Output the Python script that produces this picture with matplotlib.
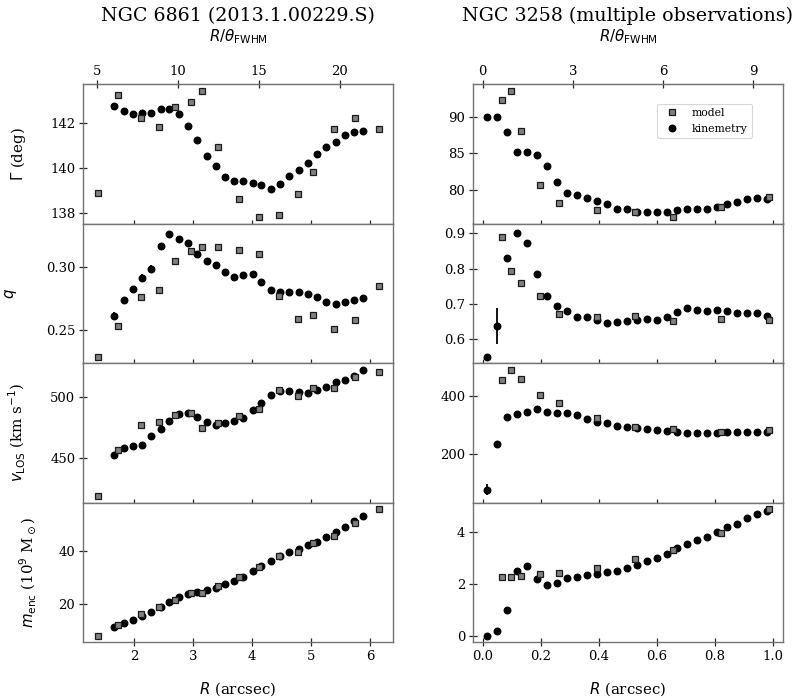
import matplotlib
matplotlib.use("Agg")
import matplotlib.pyplot as plt
from matplotlib.ticker import MultipleLocator, FormatStrFormatter

plt.rcParams['font.family'] = ['DejaVu Serif']
plt.rcParams['mathtext.fontset'] = 'dejavusans'

# ---------------- data: NGC 6861 ----------------
title_6861 = "NGC 6861 (2013.1.00229.S)"
theta_fwhm_6861 = 0.2745  # arcsec

r_kin_6861 = [1.66, 1.825, 1.98, 2.135, 2.29, 2.45, 2.60, 2.76, 2.915, 3.07, 3.23, 3.39, 3.54, 3.70,
              3.85, 4.01, 4.16, 4.32, 4.48, 4.63, 4.79, 4.95, 5.10, 5.26, 5.42, 5.57, 5.73, 5.89]
gamma_kin_6861 = [142.75, 142.5, 142.4, 142.44, 142.44, 142.6, 142.6, 142.4, 141.85, 141.25, 140.54,
                  140.07, 139.58, 139.39, 139.42, 139.33, 139.23, 139.05, 139.29, 139.65, 139.9, 140.2,
                  140.61, 140.91, 141.16, 141.45, 141.59, 141.63]
q_kin_6861 = [0.2614, 0.2741, 0.2828, 0.2918, 0.2989, 0.3164, 0.3265, 0.3222, 0.3190, 0.3103, 0.3050,
              0.3019, 0.2966, 0.2923, 0.2939, 0.2950, 0.2886, 0.2817, 0.2807, 0.2807, 0.2804, 0.2791,
              0.2767, 0.2722, 0.2706, 0.2728, 0.2741, 0.2754]
q_err_6861 = [0.003, 0.001, 0.001, 0.003, 0.003, 0.003, 0.001, 0.001, 0.001, 0.001, 0.001, 0.001,
              0.001, 0.001, 0.001, 0.001, 0.001, 0.001, 0.001, 0.001, 0.001, 0.001, 0.001, 0.001,
              0.001, 0.001, 0.001, 0.001]
v_kin_6861 = [452.2, 457.9, 459.5, 460.3, 467.9, 473.4, 480.4, 486.1, 486.4, 482.9, 478.8, 476.4,
              478.3, 480.4, 482.6, 489.1, 494.8, 501.4, 504.3, 504.3, 503.5, 503.3, 505.7, 508.2,
              512.0, 513.9, 516.8, 521.5]
m_kin_6861 = [11.3, 12.9, 13.9, 15.3, 17.0, 18.9, 20.9, 22.5, 23.8, 24.6, 25.2, 26.1, 27.5, 28.9,
              30.4, 32.4, 34.6, 36.3, 38.2, 39.6, 41.0, 42.2, 43.5, 45.4, 47.3, 49.1, 51.4, 53.5]

r_mod_6861 = [1.384, 1.73, 2.124, 2.43, 2.695, 2.96, 3.147, 3.43, 3.774, 4.119, 4.463, 4.78, 5.04,
              5.396, 5.74, 6.158]
gamma_mod_6861 = [138.89, 143.21, 142.19, 141.79, 142.71, 142.91, 143.42, 140.91, 138.61, 137.80,
                  137.90, 138.81, 139.80, 141.72, 142.19, 141.70]
q_mod_6861 = [0.2291, 0.2532, 0.2762, 0.2817, 0.3050, 0.3130, 0.3159, 0.3159, 0.3138, 0.3101, 0.2770,
              0.2590, 0.2619, 0.2511, 0.2579, 0.2849]
v_mod_6861 = [418.5, 456.3, 476.6, 479.1, 485.3, 486.4, 474.5, 478.5, 484.0, 489.9, 505.4, 500.8,
              506.8, 507.3, 516.3, 519.8]
m_mod_6861 = [8.0, 12.0, 16.3, 18.7, 21.6, 24.1, 24.3, 27.0, 30.4, 33.9, 38.2, 39.7, 43.0, 45.8,
              50.6, 56.1]

# ---------------- data: NGC 3258 ----------------
title_3258 = "NGC 3258 (multiple observations)"
theta_fwhm_3258 = 0.1038  # arcsec

r_kin_3258 = [0.015, 0.049, 0.084, 0.118, 0.153, 0.187, 0.222, 0.256, 0.291, 0.325, 0.360, 0.394,
              0.429, 0.463, 0.498, 0.532, 0.567, 0.601, 0.636, 0.670, 0.705, 0.739, 0.774, 0.808,
              0.843, 0.877, 0.911, 0.946, 0.980]
gamma_kin_3258 = [90.0, 90.0, 87.93, 85.16, 85.16, 84.79, 83.32, 81.01, 79.49, 79.22, 78.80, 78.43,
                  78.06, 77.37, 77.24, 76.96, 76.96, 76.87, 76.87, 77.10, 77.37, 77.24, 77.24, 77.56,
                  77.97, 78.34, 78.66, 78.85, 78.66]
q_kin_3258 = [0.550, 0.638, 0.831, 0.900, 0.873, 0.786, 0.723, 0.694, 0.679, 0.662, 0.663, 0.656,
              0.645, 0.648, 0.652, 0.655, 0.658, 0.656, 0.663, 0.678, 0.689, 0.684, 0.681, 0.682,
              0.681, 0.675, 0.675, 0.675, 0.665]
q_err_3258 = [0.003, 0.05, 0.003, 0.003, 0.003, 0.003, 0.003, 0.003, 0.003, 0.003, 0.003, 0.003,
              0.003, 0.003, 0.003, 0.003, 0.003, 0.003, 0.003, 0.003, 0.003, 0.003, 0.003, 0.003,
              0.003, 0.003, 0.003, 0.003, 0.003]
v_kin_3258 = [76.6, 234.3, 325.7, 336.0, 345.0, 354.0, 345.0, 340.6, 340.6, 333.7, 320.0, 310.9,
              305.0, 297.0, 291.4, 288.0, 285.7, 282.3, 280.0, 276.6, 273.0, 273.0, 272.0, 273.0,
              274.3, 275.4, 276.6, 276.6, 276.6]
v_err_3258 = [19, 3, 3, 3, 3, 3, 3, 3, 3, 3, 3, 3, 3, 3, 3, 3, 3, 3, 3, 3, 3, 3, 3, 3, 3, 3, 3, 3, 3]
m_kin_3258 = [0.0, 0.18, 1.01, 2.49, 2.69, 2.18, 1.97, 2.03, 2.23, 2.28, 2.35, 2.36, 2.44, 2.50,
              2.62, 2.74, 2.88, 2.99, 3.15, 3.37, 3.55, 3.67, 3.81, 3.99, 4.17, 4.32, 4.54, 4.68, 4.79]

r_mod_3258 = [0.0655, 0.0989, 0.132, 0.198, 0.263, 0.394, 0.526, 0.657, 0.822, 0.987]
gamma_mod_3258 = [92.40, 93.69, 88.16, 80.60, 78.20, 77.14, 76.87, 76.18, 77.65, 78.99]
q_mod_3258 = [0.889, 0.794, 0.759, 0.722, 0.672, 0.663, 0.667, 0.653, 0.659, 0.656]
v_mod_3258 = [452.6, 489.0, 457.0, 401.0, 375.0, 322.0, 292.6, 284.6, 276.6, 281.0]
m_mod_3258 = [2.27, 2.27, 2.29, 2.36, 2.42, 2.62, 2.94, 3.29, 3.97, 4.88]

row_labels = [r'$\Gamma$ (deg)', r'$q$', r'$v_{\rm LOS}$ (km s$^{-1}$)',
              r'$m_{\rm enc}$ (10$^9$ M$_\odot$)']

# ---------------- figure ----------------
W, H = 801, 698
fig = plt.figure(figsize=(W / 100, H / 100), dpi=100)

col_left_px = [83, 473]
col_width_px = 310
top_px = 84
panel_h_px = 139.5

spine_col = '0.45'
tick_fs = 9.5
label_fs = 10.8


def add_panel(col, row):
    x0 = col_left_px[col] / W
    y_top = top_px + row * panel_h_px
    y0 = 1 - (y_top + panel_h_px) / H
    ax = fig.add_axes([x0, y0, col_width_px / W, panel_h_px / H])
    for s in ax.spines.values():
        s.set_color(spine_col)
        s.set_linewidth(1.0)
    ax.tick_params(axis='both', direction='inout', length=6, width=0.9, color='0.15',
                   labelsize=tick_fs, top=False, right=False, pad=2.5)
    return ax


columns = [
    dict(title=title_6861, th=theta_fwhm_6861, r_kin=r_kin_6861, r_mod=r_mod_6861,
         kin=[gamma_kin_6861, q_kin_6861, v_kin_6861, m_kin_6861],
         err=[None, q_err_6861, None, None],
         mod=[gamma_mod_6861, q_mod_6861, v_mod_6861, m_mod_6861],
         xlim=(1.136, 6.39), top_ticks=[5, 10, 15, 20], xstep=1, xfmt='%d',
         ylims=[(137.52, 143.72), (0.2242, 0.3346), (413.3, 527.5), (5.6, 58.5)],
         ysteps=[2, 0.05, 50, 20], yfmts=['%d', '%.2f', '%d', '%d']),
    dict(title=title_3258, th=theta_fwhm_3258, r_kin=r_kin_3258, r_mod=r_mod_3258,
         kin=[gamma_kin_3258, q_kin_3258, v_kin_3258, m_kin_3258],
         err=[None, q_err_3258, v_err_3258, None],
         mod=[gamma_mod_3258, q_mod_3258, v_mod_3258, m_mod_3258],
         xlim=(-0.033, 1.036), top_ticks=[0, 3, 6, 9], xstep=0.2, xfmt='%.1f',
         ylims=[(75.3, 94.6), (0.533, 0.928), (33, 512), (-0.24, 5.13)],
         ysteps=[5, 0.1, 200, 2], yfmts=['%d', '%.1f', '%d', '%d']),
]

ylabel_x = [-0.177, -0.206, -0.177, -0.145]

for c, cfg in enumerate(columns):
    for row in range(4):
        ax = add_panel(c, row)
        eb = ax.errorbar(cfg['r_kin'], cfg['kin'][row], yerr=cfg['err'][row], fmt='o',
                         color='black', ms=4.7, elinewidth=1.3, capsize=0, zorder=3,
                         label='kinemetry')
        sq, = ax.plot(cfg['r_mod'], cfg['mod'][row], 's', ms=4.8, mfc='#808080',
                      mec='0.1', mew=0.9, zorder=4, label='model')
        ax.set_xlim(*cfg['xlim'])
        ax.set_ylim(*cfg['ylims'][row])
        ax.xaxis.set_major_locator(MultipleLocator(cfg['xstep']))
        ax.yaxis.set_major_locator(MultipleLocator(cfg['ysteps'][row]))
        ax.yaxis.set_major_formatter(FormatStrFormatter(cfg['yfmts'][row]))
        if row < 3:
            ax.tick_params(axis='x', labelbottom=False)
        else:
            ax.xaxis.set_major_formatter(FormatStrFormatter(cfg['xfmt']))
            ax.set_xlabel(r'$R$ (arcsec)', fontsize=label_fs, labelpad=13)
        if c == 0:
            ax.set_ylabel(row_labels[row], fontsize=label_fs)
            ax.yaxis.set_label_coords(ylabel_x[row], 0.5)
        if row == 0:
            th = cfg['th']
            sec = ax.secondary_xaxis('top', functions=(lambda x, th=th: x / th,
                                                       lambda x, th=th: x * th))
            sec.set_xticks(cfg['top_ticks'])
            sec.xaxis.set_major_formatter(FormatStrFormatter('%d'))
            sec.tick_params(axis='x', direction='inout', length=6, width=0.9, color='0.15',
                            labelsize=tick_fs, pad=1.5)
            sec.spines['top'].set_color(spine_col)
            sec.set_xlabel(r'$R/\theta_{\rm FWHM}$', fontsize=label_fs, labelpad=17)
            if c == 1:
                leg = ax.legend([sq, eb], ['model', 'kinemetry'], loc='upper right',
                                bbox_to_anchor=(0.90, 0.857), borderaxespad=0,
                                fontsize=7.8, frameon=True)
                leg.get_frame().set_edgecolor('0.8')
                leg.get_frame().set_linewidth(0.8)

    cx = (col_left_px[c] + col_width_px / 2) / W
    fig.text(cx, 1 - 16 / H, cfg['title'], ha='center', va='center', fontsize=13.7)

fig.savefig('out.png', dpi=100)
